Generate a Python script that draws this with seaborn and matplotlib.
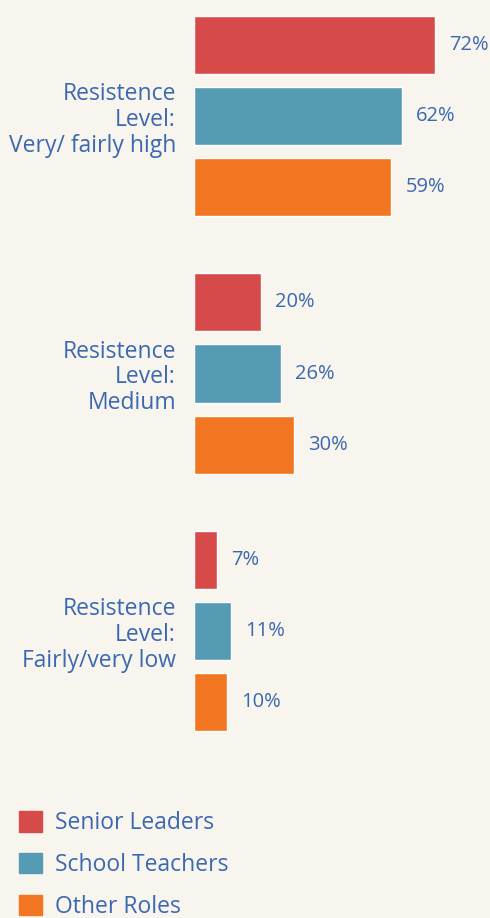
import seaborn as sns
import matplotlib.pyplot as plt
import matplotlib.patches as mpatches
import pandas as pd

categories = ['Resistence\nLevel:\nVery/ fairly high',
              'Resistence\nLevel:\nMedium',
              'Resistence\nLevel:\nFairly/very low']
roles = ['Senior Leaders', 'School Teachers', 'Other Roles']
senior_leaders = [72, 20, 7]
school_teachers = [62, 26, 11]
other_roles = [59, 30, 10]

colors = ['#d64a4a', '#559bb4', '#f27621']
text_color = '#3b68b0'
bg = '#f8f5ee'

df = pd.DataFrame({
    'level': categories * 3,
    'role': [r for r in roles for _ in categories],
    'value': senior_leaders + school_teachers + other_roles,
})

sns.set_theme(style='white')
plt.rcParams['font.family'] = ['Open Sans', 'DejaVu Sans']

W, H = 490, 918
fig = plt.figure(figsize=(W / 100, H / 100), dpi=100, facecolor=bg)
ax = fig.add_axes([194 / W, (H - 780) / H, (W - 194) / W, 780 / H])
ax.set_facecolor(bg)

sns.barplot(data=df, y='level', x='value', hue='role', order=categories,
            hue_order=roles, palette=colors, orient='h', width=0.83, gap=0.18,
            saturation=1, legend=False, ax=ax)

for cont in ax.containers:
    ax.bar_label(cont, labels=[f'{v:.0f}%' for v in cont.datavalues],
                 padding=10, fontsize=14.5, color=text_color)

ax.set_xlim(0, 296 / 3.347)
ax.set_ylim(2.5786, -0.4505)
ax.set_xlabel('')
ax.set_ylabel('')
ax.set_xticks([])
ax.tick_params(axis='y', length=0, pad=13, labelsize=16.5, labelcolor=text_color)
for lbl in ax.get_yticklabels():
    lbl.set_linespacing(1.1)
for s in ax.spines.values():
    s.set_visible(False)

handles = [mpatches.Patch(color=c, label=r) for c, r in zip(colors, roles)]
fig.legend(handles=handles, loc='upper left', bbox_to_anchor=(19 / W, 1 - 811 / H),
           frameon=False, borderaxespad=0, borderpad=0, fontsize=16.5,
           handlelength=1.0, handleheight=1.0, handletextpad=0.55,
           labelspacing=0.78, labelcolor=text_color)

fig.savefig('out.png', dpi=100, facecolor=bg)
